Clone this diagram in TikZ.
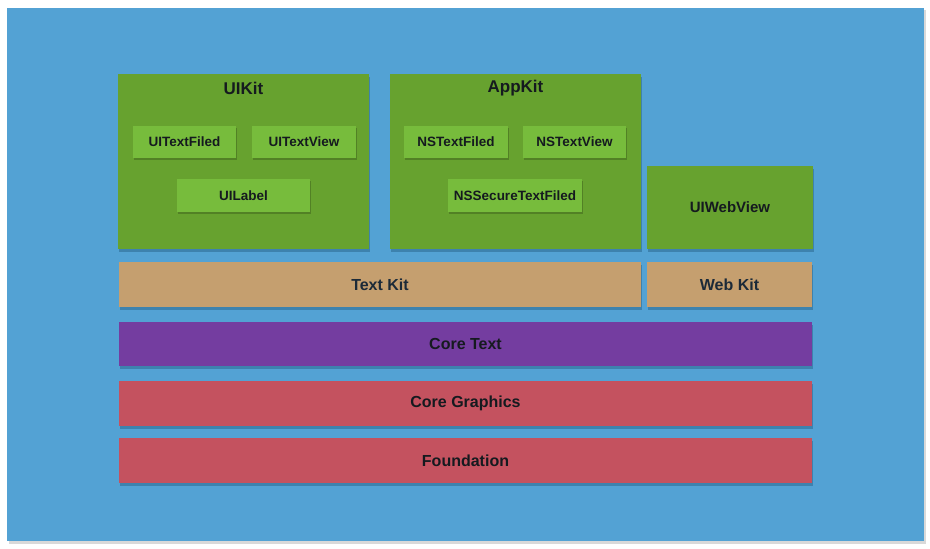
\documentclass[tikz,border=0pt]{standalone}
\usepackage{fontspec}
\setmainfont{Liberation Sans}
\usetikzlibrary{shadows}
\definecolor{bgblue}{HTML}{53A2D4}
\definecolor{kitgreen}{HTML}{67A22F}
\definecolor{itemgreen}{HTML}{77BC3C}
\definecolor{tan}{HTML}{C59F6F}
\definecolor{purp}{HTML}{743DA0}
\definecolor{redl}{HTML}{C4525F}
\definecolor{txt}{HTML}{151A1F}
\definecolor{txtb}{HTML}{1C2A38}
\definecolor{shadc}{HTML}{2F6E96}
\tikzset{
  shad/.style={drop shadow={fill=shadc,opacity=0.6,shadow xshift=1pt,shadow yshift=-2.5pt}},
  boxkit/.style={shad,fill=kitgreen,draw=none,anchor=north west,inner sep=0pt},
  item/.style={drop shadow={fill=kitgreen!60!black,opacity=0.5,shadow xshift=0.8pt,shadow yshift=-2pt},fill=itemgreen,draw=none,inner sep=0pt,font=\fontsize{13.5}{15}\selectfont\bfseries,text=txt},
  layer/.style={shad,draw=none,inner sep=0pt,font=\fontsize{16}{18}\selectfont\bfseries,text=txt},
}
\begin{document}
\begin{tikzpicture}[x=1pt,y=-1pt]
\useasboundingbox (0,0) rectangle (930,549);
\fill[black!25,opacity=0.6] (8.5,9.5) rectangle (926,543.5);
\fill[bgblue] (7,8) rectangle (924,541);
% kit boxes
\node[boxkit,minimum width=251pt,minimum height=175pt] (uikit) at (118,74) {};
\node[font=\fontsize{17}{19}\selectfont\bfseries,text=txt] (uikitt) at (243.5,88) {UIKit};
\node[boxkit,minimum width=251pt,minimum height=175pt] (appkit) at (390,74) {};
\node[font=\fontsize{17}{19}\selectfont\bfseries,text=txt] (appkitt) at (515.5,88) {AppKit};
\node[boxkit,minimum width=166pt,minimum height=83pt] (uiweb) at (647,166) {};
\node[font=\fontsize{15}{17}\selectfont\bfseries,text=txt] (uiwebt) at (730,207.5) {UIWebView};
% items
\node[item,minimum width=103pt,minimum height=32pt] (uitf) at (184.5,142) {UITextFiled};
\node[item,minimum width=104pt,minimum height=32pt] (uitv) at (304,142) {UITextView};
\node[item,minimum width=133pt,minimum height=33pt] (uil) at (243.5,195.5) {UILabel};
\node[item,minimum width=104pt,minimum height=32pt] (nstf) at (456,142) {NSTextFiled};
\node[item,minimum width=103pt,minimum height=32pt] (nstv) at (574.5,142) {NSTextView};
\node[item,minimum width=134pt,minimum height=33pt] (nsst) at (515,195.5) {NSSecureTextFiled};
% layers
\node[layer,fill=tan,text=txtb,minimum width=522pt,minimum height=45pt] (textkit) at (380,284.5) {Text Kit};
\node[layer,fill=tan,text=txtb,minimum width=165pt,minimum height=45pt] (webkit) at (729.5,284.5) {Web Kit};
\node[layer,fill=purp,minimum width=693pt,minimum height=44pt] (coretext) at (465.5,344) {Core Text};
\node[layer,fill=redl,minimum width=693pt,minimum height=45pt] (coregfx) at (465.5,403.5) {Core Graphics};
\node[layer,fill=redl,minimum width=693pt,minimum height=45pt] (found) at (465.5,460.5) {Foundation};
\end{tikzpicture}
\end{document}
